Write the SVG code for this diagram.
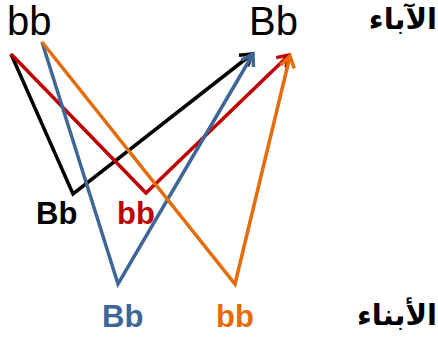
<svg xmlns="http://www.w3.org/2000/svg" width="438" height="338" viewBox="0 0 438 338">
<style>
.ln{fill:none;stroke-width:3.5;stroke-linejoin:miter}
.big{font-family:"Liberation Sans",Arial,sans-serif;font-size:40px;fill:#000}
.lab{font-family:"Liberation Sans",Arial,sans-serif;font-size:31px;font-weight:bold}
.ar{font-family:"DejaVu Sans","Noto Sans",sans-serif;font-size:29px;font-weight:bold;fill:#000}
</style>
<defs>
<marker id="ak" markerUnits="userSpaceOnUse" markerWidth="20" markerHeight="20" viewBox="-12 -10 14 20" refX="0" refY="0" orient="auto"><path d="M-11,-7 L0,0 L-11,7" fill="none" stroke="#000" stroke-width="3.5"/></marker>
<marker id="ar" markerUnits="userSpaceOnUse" markerWidth="20" markerHeight="20" viewBox="-12 -10 14 20" refX="0" refY="0" orient="auto"><path d="M-11,-7 L0,0 L-11,7" fill="none" stroke="#C00000" stroke-width="3.5"/></marker>
<marker id="ab" markerUnits="userSpaceOnUse" markerWidth="20" markerHeight="20" viewBox="-12 -10 14 20" refX="0" refY="0" orient="auto"><path d="M-11,-7 L0,0 L-11,7" fill="none" stroke="#3E6696" stroke-width="3.5"/></marker>
<marker id="ao" markerUnits="userSpaceOnUse" markerWidth="20" markerHeight="20" viewBox="-12 -10 14 20" refX="0" refY="0" orient="auto"><path d="M-11,-7 L0,0 L-11,7" fill="none" stroke="#E46C0A" stroke-width="3.5"/></marker>
</defs>
<g id="parent-bb"><text class="big" x="7" y="35">bb</text></g>
<g id="parent-Bb"><text class="big" x="249" y="35">Bb</text></g>
<g id="label-parents"><text class="ar" x="437" y="29" text-anchor="end">الآباء</text></g>
<g id="label-children"><text class="ar" x="437" y="325" text-anchor="end">الأبناء</text></g>
<g id="connectors">
<polyline class="ln" stroke="#000" points="11,54 73,194 252,54" marker-end="url(#ak)"/>
<polyline class="ln" stroke="#C00000" points="11,54 146,193 289,55" marker-end="url(#ar)"/>
<polyline class="ln" stroke="#3E6696" points="42,42 118,284 253,54" marker-end="url(#ab)"/>
<polyline class="ln" stroke="#E46C0A" points="42,42 235,284 290,56" marker-end="url(#ao)"/>
</g>
<g id="child-Bb-black"><text class="lab" x="36" y="224" fill="#000">Bb</text></g>
<g id="child-bb-red"><text class="lab" x="117" y="224" fill="#C00000">bb</text></g>
<g id="child-Bb-blue"><text class="lab" x="102" y="327" fill="#3E6696">Bb</text></g>
<g id="child-bb-orange"><text class="lab" x="216" y="327" fill="#E46C0A">bb</text></g>
</svg>
